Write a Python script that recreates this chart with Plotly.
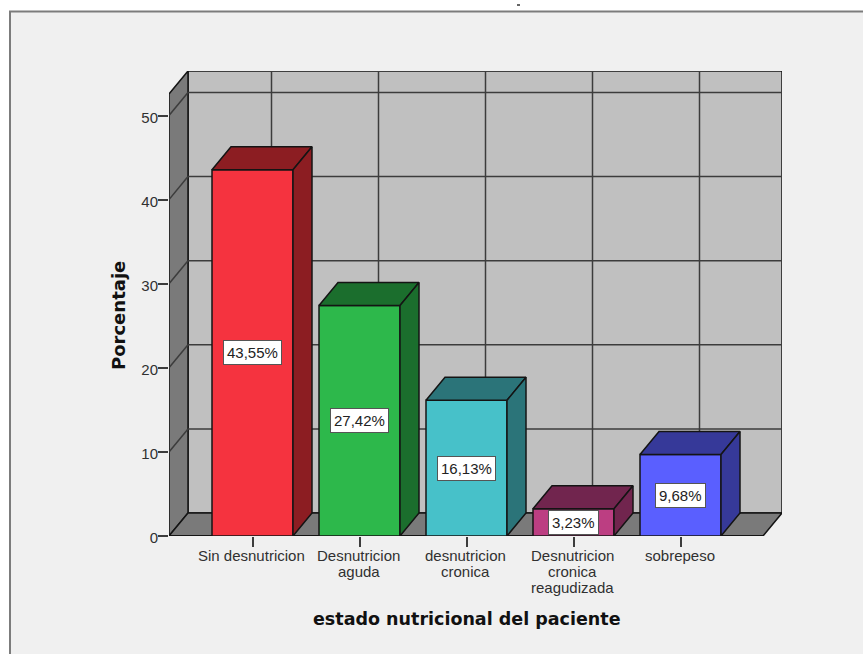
import plotly.graph_objects as go

# ---- data ----
category_lines = [
    ["Sin desnutricion"],
    ["Desnutricion", "aguda"],
    ["desnutricion", "cronica"],
    ["Desnutricion", "cronica", "reagudizada"],
    ["sobrepeso"],
]
values = [43.55, 27.42, 16.13, 3.23, 9.68]
value_labels = ["43,55%", "27,42%", "16,13%", "3,23%", "9,68%"]
y_ticks = [0, 10, 20, 30, 40, 50]
y_title = "Porcentaje"
x_title = "estado nutricional del paciente"

# ---- style ----
front_colors = ["#f5333f", "#2db84b", "#47c1c9", "#bc3e82", "#5a5fff"]
side_colors = ["#8c1d22", "#1b6e2d", "#2b7479", "#71254e", "#363999"]
WALL = "#c0c0c0"
DARK = "#7a7a7a"
BG = "#f0f0f0"
LINE = "#141414"
GRID = "#3c3c3c"

# ---- geometry (pixels mapped to the axis units) ----
W, H = 863, 654
L, R, T, B = 169, 782, 71, 536
PX_PER_CAT = 107.0
PX_PER_UNIT = 8.41
CENTER0 = 252.5
xu = lambda px: (px - CENTER0) / PX_PER_CAT
DX = 19 / PX_PER_CAT          # depth offset along x
DY = 23 / PX_PER_UNIT         # depth offset along y
BAR_W = 81 / PX_PER_CAT
x0, x1 = xu(L), xu(R)
y_top = (B - T) / PX_PER_UNIT
y_front_top = y_top - DY
px_x = lambda px: (px - L) / (R - L)
px_y = lambda py: (B - py) / (B - T)


def poly(xs, ys, fill, width=1.5, color=LINE, layer="below"):
    path = "M " + " L ".join(f"{a},{b}" for a, b in zip(xs, ys)) + " Z"
    return dict(type="path", path=path, xref="x", yref="y", fillcolor=fill,
                line=dict(color=color, width=width), layer=layer)


def seg(xa, ya, xb, yb, color=GRID, width=1.5):
    return dict(type="line", x0=xa, y0=ya, x1=xb, y1=yb, xref="x", yref="y",
                line=dict(color=color, width=width), layer="below")


shapes = [
    dict(type="rect", xref="paper", yref="paper", x0=px_x(10), x1=px_x(W + 20),
         y0=px_y(H + 20), y1=px_y(11.5), fillcolor=BG,
         line=dict(color="#7c7c7c", width=2), layer="below"),
    dict(type="line", xref="paper", yref="paper", x0=px_x(517), x1=px_x(520),
         y0=px_y(5), y1=px_y(5), line=dict(color="#333333", width=1.5), layer="below"),
]
xb0, xb1 = x0 + DX, x1
shapes.append(poly([xb0, xb1, xb1, xb0], [DY, DY, y_top, y_top], WALL))
shapes.append(poly([x0, xb0, xb0, x0], [0, DY, y_top, y_front_top], DARK))
shapes.append(poly([x0, xb1 - DX, xb1, xb0], [0, 0, DY, DY], DARK))
for t in y_ticks[1:]:
    shapes.append(seg(xb0, t + DY, xb1, t + DY))
    shapes.append(seg(x0, t, xb0, t + DY))
for i in range(len(values) + 1):
    xg = i + DX
    if xg < xb1:
        shapes.append(seg(xg, DY, xg, y_top))
shapes.append(seg(x0, 0, xb1 - DX, 0, color=LINE, width=2))

fig = go.Figure()
fig.add_bar(x=list(range(len(values))), y=values, width=BAR_W,
            marker=dict(color=front_colors, line=dict(color=LINE, width=1.5)),
            hoverinfo="skip", showlegend=False)

for i, v in enumerate(values):
    a, b = i - BAR_W / 2, i + BAR_W / 2
    fig.add_scatter(x=[a, a + DX, b + DX, b, a], y=[v, v + DY, v + DY, v, v],
                    mode="lines", fill="toself", fillcolor=side_colors[i],
                    line=dict(color=LINE, width=1.5), hoverinfo="skip", showlegend=False)
    fig.add_scatter(x=[b, b + DX, b + DX, b, b], y=[0, DY, v + DY, v, 0],
                    mode="lines", fill="toself", fillcolor=side_colors[i],
                    line=dict(color=LINE, width=1.5), hoverinfo="skip", showlegend=False)

annotations = []
for i, v in enumerate(values):
    annotations.append(dict(x=i, y=v / 2, xref="x", yref="y", text=value_labels[i],
                            showarrow=False, bgcolor="white", bordercolor="#555555",
                            borderwidth=1, borderpad=3,
                            font=dict(family="Liberation Sans", size=15, color="#222222")))
    for j, line in enumerate(category_lines[i]):
        annotations.append(dict(x=i, y=0, xref="x", yref="paper", text=line,
                                showarrow=False, yanchor="middle", yshift=-(19 + 16 * j),
                                xshift=-1,
                                font=dict(family="Liberation Sans", size=15, color="#303030")))

annotations.append(dict(x=px_x(466.5), y=px_y(619), xref="paper", yref="paper", text=x_title,
                        showarrow=False, xanchor="center", yanchor="middle",
                        font=dict(family="DejaVu Sans", size=17.5, color="#111111", weight="bold")))
annotations.append(dict(x=px_x(118), y=px_y(316), xref="paper", yref="paper", text=y_title,
                        showarrow=False, textangle=-90, xanchor="center", yanchor="middle",
                        font=dict(family="DejaVu Sans", size=18, color="#111111", weight="bold")))

fig.update_layout(
    width=W, height=H, autosize=False,
    margin=dict(l=L, r=W - R, t=T, b=H - B),
    paper_bgcolor="white", plot_bgcolor="rgba(0,0,0,0)",
    showlegend=False, shapes=shapes, annotations=annotations,
    xaxis=dict(range=[x0, x1], tickvals=list(range(len(values))), showticklabels=False,
               ticks="outside", ticklen=10, tickwidth=1.5, tickcolor=GRID,
               showgrid=False, zeroline=False, showline=False),
    yaxis=dict(range=[0, y_top], tickvals=y_ticks, ticks="outside", ticklen=10,
               tickwidth=1.5, tickcolor=GRID, showgrid=False, zeroline=False, showline=False,
               ticklabelstandoff=-3, ticklabelshift=2,
               tickfont=dict(family="Liberation Sans", size=15, color="#303030")),
)

fig.write_html("out.html", post_script="document.body.style.margin='0';",
               config=dict(displayModeBar=False))
